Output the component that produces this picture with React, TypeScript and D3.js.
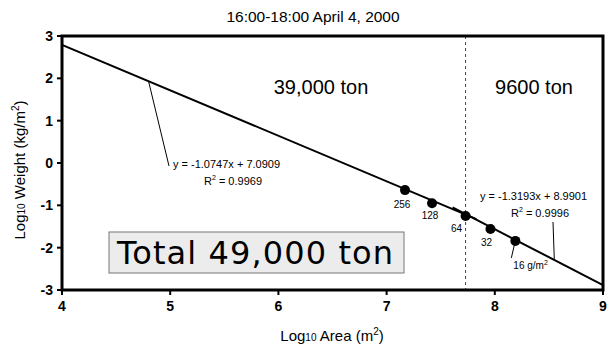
import React, { useEffect, useRef } from 'react';
import * as d3 from 'd3';

// chart data
const titleText = '16:00-18:00 April 4, 2000';
const xTicks = [4, 5, 6, 7, 8, 9];
const yTicks = [-3, -2, -1, 0, 1, 2, 3];
const pointLabels = ['256', '128', '64', '32', '16 g/m²'];
const logArea = [7.17, 7.42, 7.73, 7.96, 8.19];
const logWeight = [-0.64, -0.95, -1.25, -1.56, -1.84];
const leftFit = { slope: -1.0747, intercept: 7.0909, r2: '0.9969', label: 'y = -1.0747x + 7.0909' };
const rightFit = { slope: -1.3193, intercept: 8.9901, r2: '0.9996', label: 'y = -1.3193x + 8.9901' };
const breakX = 7.73;
const massLabels = ['39,000 ton', '9600 ton'];
const totalLabel = 'Total 49,000 ton';

const W = 615;
const H = 346;
const M = { left: 62, right: 12, top: 36, bottom: 56 };
const FONT = '"Liberation Sans", Arial, Helvetica, sans-serif';

export default function App() {
    const svgRef = useRef<SVGSVGElement>(null);

    useEffect(() => {
        const svg = d3.select(svgRef.current);
        svg.selectAll('*').remove();

        const x = d3.scaleLinear().domain([4, 9]).range([M.left, W - M.right]);
        const y = d3.scaleLinear().domain([-3, 3]).range([H - M.bottom, M.top]);
        const fit = (f: typeof leftFit) => (v: number) => f.slope * v + f.intercept;

        svg.append('text')
            .attr('x', 313).attr('y', 22)
            .attr('text-anchor', 'middle')
            .attr('font-family', FONT).attr('font-size', 15.5)
            .text(titleText);

        // dashed split line
        svg.append('line')
            .attr('x1', x(breakX)).attr('x2', x(breakX))
            .attr('y1', y(3)).attr('y2', y(-3))
            .attr('stroke', '#444').attr('stroke-width', 1)
            .attr('stroke-dasharray', '3,3');

        // fitted lines
        const line = d3.line<number>().x(d => x(d));
        const drawFit = (f: typeof leftFit, x0: number, x1: number) => {
            const g = fit(f);
            svg.append('path')
                .datum([x0, x1])
                .attr('d', line.y(d => y(Math.max(-3, g(d)))))
                .attr('fill', 'none')
                .attr('stroke', '#000').attr('stroke-width', 2);
        };
        drawFit(leftFit, 4, breakX + 0.1);
        drawFit(rightFit, breakX - 0.12, 9);

        // points
        svg.selectAll('circle.pt')
            .data(logArea)
            .join('circle')
            .attr('class', 'pt')
            .attr('cx', d => x(d))
            .attr('cy', (_, i) => y(logWeight[i]))
            .attr('r', 5)
            .attr('fill', '#000');

        const labelOffsets = [[-3, 18], [-2, 16], [-9, 16], [-4, 17]];
        labelOffsets.forEach(([dx, dy], i) => {
            svg.append('text')
                .attr('x', x(logArea[i]) + dx).attr('y', y(logWeight[i]) + dy)
                .attr('text-anchor', 'middle')
                .attr('font-family', FONT).attr('font-size', 10)
                .text(pointLabels[i]);
        });

        // 16 g/m2 label with leader
        const p4x = x(logArea[4]);
        const p4y = y(logWeight[4]);
        svg.append('line')
            .attr('x1', p4x - 1).attr('y1', p4y + 4)
            .attr('x2', p4x - 4).attr('y2', p4y + 17)
            .attr('stroke', '#000').attr('stroke-width', 1);
        const t16 = svg.append('text')
            .attr('x', p4x - 2).attr('y', p4y + 28)
            .attr('font-family', FONT).attr('font-size', 10);
        t16.append('tspan').text('16 g/m');
        t16.append('tspan').attr('font-size', 7).attr('dy', -4).text('2');

        // left fit annotation
        const lx = 4.8;
        svg.append('line')
            .attr('x1', x(lx)).attr('y1', y(fit(leftFit)(lx)))
            .attr('x2', 169).attr('y2', 166)
            .attr('stroke', '#000').attr('stroke-width', 1);
        const eqText = (tx: number, ty: number, f: typeof leftFit) => {
            svg.append('text')
                .attr('x', tx).attr('y', ty)
                .attr('font-family', FONT).attr('font-size', 11)
                .text(f.label);
            const r = svg.append('text')
                .attr('x', tx + 60).attr('y', ty + 17)
                .attr('text-anchor', 'middle')
                .attr('font-family', FONT).attr('font-size', 11);
            r.append('tspan').text('R');
            r.append('tspan').attr('font-size', 7).attr('dy', -5).text('2');
            r.append('tspan').attr('dy', 5).text(' = ' + f.r2);
        };
        eqText(173, 168, leftFit);

        // right fit annotation
        const rx = 8.55;
        svg.append('line')
            .attr('x1', x(rx)).attr('y1', y(fit(rightFit)(rx)))
            .attr('x2', 553).attr('y2', 222)
            .attr('stroke', '#000').attr('stroke-width', 1);
        eqText(480, 200, rightFit);

        // mass labels
        svg.append('text')
            .attr('x', 321).attr('y', 94)
            .attr('text-anchor', 'middle')
            .attr('font-family', FONT).attr('font-size', 20)
            .text(massLabels[0]);
        svg.append('text')
            .attr('x', 534).attr('y', 94)
            .attr('text-anchor', 'middle')
            .attr('font-family', FONT).attr('font-size', 20)
            .text(massLabels[1]);

        // total box
        svg.append('rect')
            .attr('x', 109).attr('y', 232)
            .attr('width', 295).attr('height', 41)
            .attr('fill', '#ececec')
            .attr('stroke', '#777').attr('stroke-width', 1);
        svg.append('text')
            .attr('x', 117).attr('y', 264)
            .attr('font-family', '"DejaVu Sans", Verdana, sans-serif')
            .attr('font-size', 32)
            .attr('textLength', 276)
            .text(totalLabel);

        // frame
        svg.append('rect')
            .attr('x', M.left).attr('y', M.top)
            .attr('width', W - M.left - M.right).attr('height', H - M.top - M.bottom)
            .attr('fill', 'none')
            .attr('stroke', '#000').attr('stroke-width', 3);

        // y ticks
        yTicks.forEach(t => {
            svg.append('line')
                .attr('x1', M.left - 5).attr('x2', M.left)
                .attr('y1', y(t)).attr('y2', y(t))
                .attr('stroke', '#000').attr('stroke-width', 2);
            svg.append('text')
                .attr('x', M.left - 9).attr('y', y(t) + 5)
                .attr('text-anchor', 'end')
                .attr('font-family', FONT).attr('font-size', 14).attr('font-weight', 'bold')
                .text(t);
        });

        // x ticks
        xTicks.forEach(t => {
            svg.append('line')
                .attr('x1', x(t)).attr('x2', x(t))
                .attr('y1', H - M.bottom).attr('y2', H - M.bottom + 5)
                .attr('stroke', '#000').attr('stroke-width', 2);
            svg.append('text')
                .attr('x', x(t)).attr('y', H - M.bottom + 21)
                .attr('text-anchor', 'middle')
                .attr('font-family', FONT).attr('font-size', 14).attr('font-weight', 'bold')
                .text(t);
        });

        // axis titles
        const xt = svg.append('text')
            .attr('x', 332).attr('y', 341)
            .attr('text-anchor', 'middle')
            .attr('font-family', FONT).attr('font-size', 15);
        xt.append('tspan').text('Log');
        xt.append('tspan').attr('font-size', 10).text('10');
        xt.append('tspan').text(' Area (m');
        xt.append('tspan').attr('font-size', 10).attr('dy', -6).text('2');
        xt.append('tspan').attr('dy', 6).text(')');

        const yt = svg.append('text')
            .attr('transform', 'translate(25,170) rotate(-90)')
            .attr('text-anchor', 'middle')
            .attr('font-family', FONT).attr('font-size', 15);
        yt.append('tspan').text('Log');
        yt.append('tspan').attr('font-size', 10).text('10');
        yt.append('tspan').text(' Weight (kg/m');
        yt.append('tspan').attr('font-size', 10).attr('dy', -6).text('2');
        yt.append('tspan').attr('dy', 6).text(')');
    }, []);

    return (
        <svg
            ref={svgRef}
            width={W}
            height={H}
            style={{ position: 'absolute', left: 0, top: 0, background: '#fff' }}
        />
    );
}
